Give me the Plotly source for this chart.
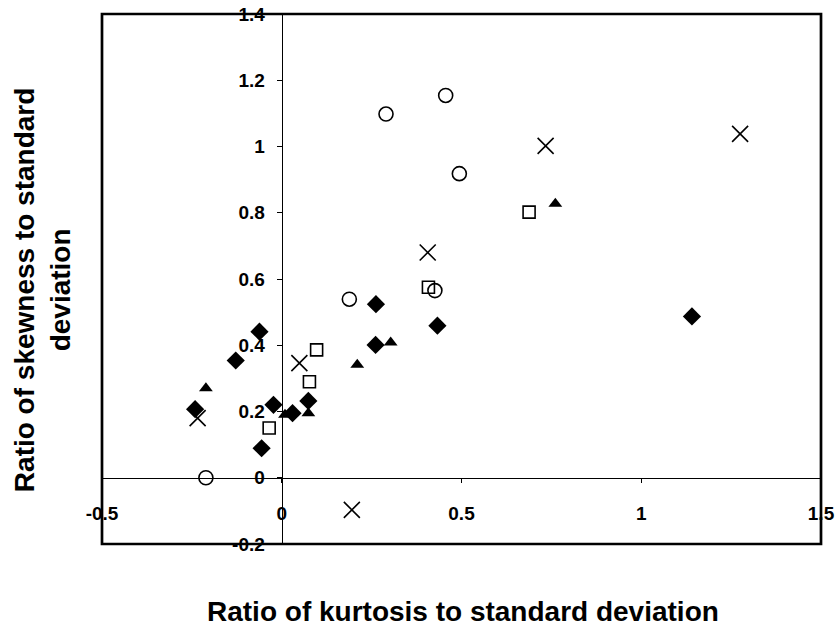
import plotly.graph_objects as go

# Data (x: ratio of kurtosis to SD, y: ratio of skewness to SD)
diamond_x = [-0.241, -0.128, -0.062, -0.056, -0.023, 0.030, 0.074, 0.262, 0.261, 0.433, 1.141]
diamond_y = [0.207, 0.354, 0.441, 0.089, 0.220, 0.195, 0.232, 0.524, 0.401, 0.459, 0.487]

square_x = [-0.035, 0.077, 0.097, 0.408, 0.688]
square_y = [0.150, 0.290, 0.386, 0.575, 0.802]

triangle_x = [-0.211, 0.009, 0.074, 0.210, 0.303, 0.761]
triangle_y = [0.270, 0.190, 0.195, 0.341, 0.408, 0.827]

cross_x = [-0.234, 0.049, 0.195, 0.406, 0.734, 1.275]
cross_y = [0.180, 0.346, -0.097, 0.680, 1.002, 1.038]

circle_x = [-0.211, 0.188, 0.290, 0.456, 0.494, 0.426]
circle_y = [0.000, 0.539, 1.098, 1.154, 0.918, 0.565]

x_ticks = [-0.5, 0, 0.5, 1, 1.5]
x_tick_labels = ["-0.5", "0", "0.5", "1", "1.5"]
y_ticks = [-0.2, 0, 0.2, 0.4, 0.6, 0.8, 1, 1.2, 1.4]
y_tick_labels = ["-0.2", "0", "0.2", "0.4", "0.6", "0.8", "1", "1.2", "1.4"]

x_title = "Ratio of kurtosis to standard deviation"
y_title = "Ratio of skewness to standard<br>deviation"

FONT = "Liberation Sans, Arial, sans-serif"

fig = go.Figure()
fig.add_trace(go.Scatter(x=circle_x, y=circle_y, mode="markers",
                         marker=dict(symbol="circle-open", size=14, color="black", line=dict(width=1.6))))
fig.add_trace(go.Scatter(x=square_x, y=square_y, mode="markers",
                         marker=dict(symbol="square-open", size=12, color="black", line=dict(width=1.6))))
fig.add_trace(go.Scatter(x=cross_x, y=cross_y, mode="markers",
                         marker=dict(symbol="x-thin-open", size=16, color="black", line=dict(width=1.6))))
fig.add_trace(go.Scatter(x=triangle_x, y=triangle_y, mode="markers",
                         marker=dict(symbol="triangle-up", size=12, color="black", line=dict(width=0))))
fig.add_trace(go.Scatter(x=diamond_x, y=diamond_y, mode="markers",
                         marker=dict(symbol="diamond", size=14, color="black", line=dict(width=0))))

fig.update_layout(
    width=839, height=636,
    margin=dict(l=102, r=18, t=14, b=92, autoexpand=False),
    paper_bgcolor="white", plot_bgcolor="white",
    showlegend=False,
    font=dict(family=FONT, color="black"),
    xaxis=dict(range=[-0.5, 1.5], domain=[0, 1], anchor="free", position=0.125,
               automargin=False, ticklabeloverflow="allow",
               tickvals=x_ticks, ticktext=x_tick_labels,
               showgrid=False, zeroline=False,
               showline=True, linecolor="black", linewidth=1.2,
               ticks="outside", ticklen=4, tickcolor="black", tickwidth=1,
               ticklabelstandoff=14,
               tickfont=dict(family=FONT, size=19, color="black", weight="bold")),
    yaxis=dict(range=[-0.2, 1.4], domain=[0, 1], anchor="free", position=0.25,
               automargin=False, ticklabeloverflow="allow",
               tickvals=y_ticks, ticktext=y_tick_labels,
               showgrid=False, zeroline=False,
               showline=True, linecolor="black", linewidth=1.2,
               ticks="outside", ticklen=5, tickcolor="black", tickwidth=1,
               ticklabelstandoff=8,
               tickfont=dict(family=FONT, size=19, color="black", weight="bold")),
    shapes=[dict(type="rect", xref="paper", yref="paper", x0=0, x1=1, y0=0, y1=1,
                 line=dict(color="black", width=2.7), layer="above")],
    annotations=[
        dict(text=x_title, xref="paper", yref="paper", x=0.502, y=-0.128,
             xanchor="center", yanchor="middle", showarrow=False,
             font=dict(family=FONT, size=28, color="black", weight="bold")),
        dict(text=y_title, xref="paper", yref="paper", x=-0.0834, y=0.479,
             xanchor="center", yanchor="middle", textangle=-90, showarrow=False,
             font=dict(family=FONT, size=28, color="black", weight="bold")),
    ],
)

# remove the page's default body margin so the figure fills the window exactly
fig.write_html("out.html",
               config={"displayModeBar": False},
               post_script="document.body.style.margin='0';document.body.style.overflow='hidden';")
